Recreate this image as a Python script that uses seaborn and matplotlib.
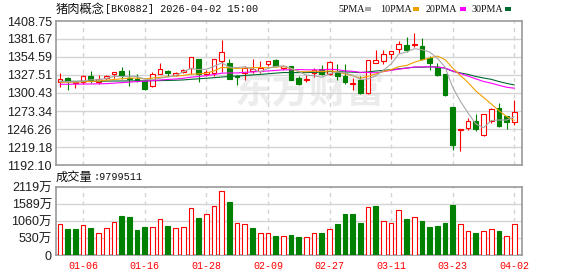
import numpy as np
import pandas as pd
import matplotlib
matplotlib.use("Agg")
import matplotlib.pyplot as plt
from matplotlib.patches import Rectangle
import seaborn as sns

# ---------------- data ----------------
dates = ["12-30", "12-31", "01-05", "01-06", "01-07", "01-08", "01-09", "01-12", "01-13", "01-14",
         "01-15", "01-16", "01-19", "01-20", "01-21", "01-22", "01-23", "01-26", "01-27", "01-28",
         "01-29", "01-30", "02-02", "02-03", "02-04", "02-05", "02-06", "02-09", "02-10", "02-11",
         "02-12", "02-13", "02-24", "02-25", "02-26", "02-27", "03-02", "03-03", "03-04", "03-05",
         "03-06", "03-09", "03-10", "03-11", "03-12", "03-13", "03-16", "03-17", "03-18", "03-19",
         "03-20", "03-23", "03-24", "03-25", "03-26", "03-27", "03-30", "03-31", "04-01", "04-02"]
tick_dates = ["01-06", "01-16", "01-28", "02-09", "02-27", "03-11", "03-23", "04-02"]

open_ = [1317.3, 1322.7, 1315.3, 1317.3, 1326.7, 1316.3, 1322.7, 1329.6, 1333.1, 1323.7,
         1321.2, 1318.8, 1310.3, 1329.6, 1334.1, 1327.7, 1332.1, 1338.1, 1351.0, 1328.7,
         1331.1, 1348.5, 1345.0, 1326.7, 1331.1, 1333.6, 1333.0, 1344.5, 1349.5, 1338.6,
         1340.5, 1322.7, 1320.2, 1331.1, 1336.1, 1328.6, 1332.6, 1326.2, 1313.3, 1320.2,
         1299.9, 1346.0, 1348.5, 1359.4, 1366.8, 1372.8, 1372.3, 1371.3, 1352.4, 1339.6,
         1329.7, 1279.1, 1245.5, 1247.4, 1257.8, 1236.5, 1258.8, 1278.6, 1265.2, 1256.3]
high = [1331.0, 1324.7, 1316.8, 1327.2, 1333.1, 1327.2, 1327.2, 1332.6, 1340.0, 1335.6,
        1328.7, 1319.3, 1332.1, 1345.0, 1334.5, 1332.0, 1336.1, 1354.0, 1351.0, 1335.6,
        1352.0, 1380.2, 1351.0, 1327.0, 1341.0, 1351.9, 1348.0, 1349.0, 1351.0, 1342.0,
        1341.0, 1326.2, 1327.2, 1338.6, 1342.5, 1348.5, 1344.5, 1344.5, 1323.2, 1326.2,
        1350.0, 1365.8, 1364.8, 1364.3, 1379.2, 1385.1, 1390.1, 1382.7, 1356.4, 1345.0,
        1329.7, 1279.1, 1246.7, 1262.3, 1268.7, 1268.5, 1278.1, 1285.1, 1265.5, 1289.5]
low = [1310.0, 1305.4, 1308.4, 1314.0, 1315.3, 1313.8, 1320.2, 1323.7, 1321.2, 1311.3,
       1316.3, 1304.9, 1309.3, 1328.6, 1326.2, 1326.0, 1330.6, 1328.6, 1317.3, 1326.2,
       1326.2, 1332.6, 1322.0, 1312.3, 1320.2, 1331.1, 1331.0, 1341.0, 1340.0, 1335.0,
       1319.7, 1312.3, 1316.3, 1324.7, 1327.7, 1328.0, 1320.2, 1313.8, 1305.4, 1298.4,
       1298.4, 1346.0, 1343.5, 1351.9, 1359.9, 1361.4, 1369.3, 1350.5, 1334.6, 1325.7,
       1296.0, 1214.2, 1212.7, 1244.4, 1244.0, 1235.5, 1255.3, 1249.4, 1246.5, 1252.8]
close = [1321.0, 1317.8, 1316.3, 1326.7, 1319.7, 1321.7, 1326.2, 1332.6, 1325.7, 1321.7,
         1319.7, 1306.4, 1328.7, 1337.1, 1330.1, 1330.6, 1335.1, 1353.9, 1328.6, 1332.6,
         1351.9, 1361.4, 1322.2, 1325.2, 1338.1, 1336.8, 1337.5, 1349.0, 1340.5, 1341.5,
         1320.2, 1313.8, 1321.2, 1335.1, 1329.6, 1347.5, 1326.2, 1316.3, 1315.3, 1299.9,
         1350.0, 1349.5, 1358.4, 1362.9, 1374.2, 1365.3, 1374.2, 1351.4, 1345.5, 1328.2,
         1297.5, 1221.7, 1246.5, 1257.8, 1246.5, 1268.2, 1276.2, 1250.4, 1257.3, 1271.1]

ma5 = [1317.5, 1317.5, 1317.2, 1318.5, 1320.3, 1320.4, 1322.1, 1325.4, 1325.2, 1325.6,
       1325.2, 1321.2, 1320.4, 1322.7, 1324.4, 1326.6, 1332.3, 1337.4, 1335.7, 1336.2,
       1340.4, 1345.7, 1339.3, 1338.7, 1339.8, 1336.7, 1332.0, 1337.3, 1340.4, 1341.1,
       1337.7, 1333.0, 1327.4, 1326.4, 1324.0, 1329.4, 1331.9, 1330.9, 1327.0, 1321.0,
       1321.5, 1326.2, 1334.6, 1344.1, 1359.0, 1362.1, 1367.0, 1365.6, 1362.1, 1352.9,
       1339.4, 1308.9, 1287.9, 1270.3, 1254.0, 1248.1, 1259.0, 1259.8, 1259.7, 1264.6]
ma10 = [1316.5, 1316.6, 1316.8, 1317.3, 1317.8, 1318.5, 1319.5, 1320.8, 1321.8, 1322.9,
        1322.8, 1321.7, 1322.9, 1324.0, 1325.0, 1325.9, 1326.8, 1328.9, 1329.2, 1330.3,
        1333.5, 1339.0, 1338.4, 1337.2, 1338.0, 1338.6, 1338.8, 1338.3, 1339.5, 1340.4,
        1337.2, 1332.5, 1332.4, 1333.4, 1332.5, 1333.6, 1332.5, 1329.2, 1326.7, 1322.5,
        1325.5, 1329.1, 1332.8, 1335.6, 1340.0, 1341.8, 1346.6, 1350.1, 1353.1, 1356.0,
        1350.7, 1337.9, 1326.7, 1316.2, 1303.5, 1293.8, 1284.0, 1273.9, 1265.0, 1259.3]
ma20 = [1313.5, 1313.6, 1313.7, 1313.9, 1314.0, 1314.2, 1314.5, 1315.2, 1316.0, 1316.8,
        1317.6, 1318.2, 1319.0, 1320.0, 1320.8, 1321.5, 1322.6, 1324.2, 1325.2, 1326.6,
        1328.2, 1330.3, 1330.6, 1330.6, 1331.5, 1332.2, 1332.8, 1333.6, 1334.4, 1335.3,
        1335.4, 1335.7, 1335.4, 1335.3, 1335.2, 1336.1, 1335.6, 1333.8, 1333.1, 1331.5,
        1331.4, 1330.8, 1332.6, 1334.5, 1336.3, 1337.7, 1339.5, 1339.7, 1339.9, 1339.2,
        1338.1, 1333.5, 1329.8, 1325.9, 1321.7, 1317.8, 1315.3, 1312.0, 1309.1, 1307.6]
ma30 = [1318.0, 1318.0, 1318.0, 1318.1, 1318.1, 1318.2, 1318.3, 1318.4, 1318.5, 1318.6,
        1318.7, 1318.7, 1318.9, 1319.1, 1319.3, 1319.6, 1320.1, 1321.0, 1321.8, 1322.6,
        1323.5, 1324.5, 1325.3, 1326.0, 1326.8, 1327.6, 1328.4, 1329.3, 1330.3, 1331.2,
        1331.2, 1331.1, 1331.2, 1331.5, 1331.8, 1332.7, 1332.7, 1332.1, 1331.8, 1331.1,
        1332.1, 1333.5, 1334.5, 1335.4, 1336.8, 1338.0, 1339.3, 1339.2, 1339.8, 1339.6,
        1337.8, 1333.2, 1330.6, 1328.4, 1325.3, 1323.0, 1321.0, 1317.7, 1314.9, 1312.6]

# volume in 万 (10k shares); direction vs. previous close (R = up, G = down)
volume = [957, 811, 811, 926, 842, 676, 832, 1019, 1217, 1186,
          780, 874, 863, 1113, 905, 832, 863, 1456, 1154, 1269,
          1518, 1986, 1654, 988, 957, 842, 697, 697, 593, 582,
          624, 562, 551, 676, 676, 801, 967, 1279, 1279, 998,
          1487, 1529, 1050, 988, 1394, 1123, 1175, 1061, 874, 905,
          998, 1560, 957, 738, 686, 738, 811, 749, 582, 979.9511]
vol_dir = list("RGGRGRRRGGGGRRGRRRGRRRGRRGRRGRGGRRGRGGGGRGRRRGRGGGGGRRGRRGRR")

price_ticks = [1192.10, 1219.18, 1246.26, 1273.34, 1300.43, 1327.51, 1354.59, 1381.67, 1408.75]
vol_ticks = [0, 530, 1060, 1589, 2119]
vol_tick_labels = ["0", "530万", "1060万", "1589万", "2119万"]
ma_names = ["5PMA", "10PMA", "20PMA", "30PMA"]
ma_colors = ["#a8a8a8", "#f0a000", "#ff00ff", "#006a30"]
title_cn = "猪肉概念"
title_rest = "[BK0882] 2026-04-02 15:00"
vol_title_cn = "成交量"
vol_title_rest = ":9799511"

# ---------------- style ----------------
sns.set_theme(style="white")
plt.rcParams["font.family"] = ["Liberation Sans", "Noto Sans CJK SC", "DejaVu Sans"]

RED = "#ff0000"
GREEN = "#008000"
GRID = "#d4d4d4"
FRAME = "#9a9a9a"
TXT = "#1e1e1e"
W, H = 578, 276

fig = plt.figure(figsize=(W / 100, H / 100), dpi=100)
fig.patch.set_facecolor("white")


def rect(l, t, r, b):
    return [l / W, 1 - b / H, (r - l) / W, (b - t) / H]


def fx(px):
    return px / W


def fy(py):
    return 1 - py / H


ax = fig.add_axes(rect(56, 21, 522, 165))
axv = fig.add_axes(rect(56, 187, 522, 255))

n = len(close)
x = np.arange(n)
o = np.array(open_)
c = np.array(close)
hi = np.array(high)
lo = np.array(low)
up = c >= o
XL = (-0.52, 60.0)
tick_idx = [dates.index(d) for d in tick_dates]

# watermark
ax.text(0.545, 0.51, "东方财富", transform=ax.transAxes, ha="center", va="center",
        fontsize=27, fontweight="bold", color="#ececec", zorder=0,
        family=["Noto Sans CJK SC"])

# candles
bw = 0.6
top = np.maximum(o, c)
bot = np.minimum(o, c)
cols = np.where(up, RED, GREEN)
ax.vlines(x, top, hi, colors=cols, lw=0.8, zorder=3)
ax.vlines(x, lo, bot, colors=cols, lw=0.8, zorder=3)
ax.bar(x, np.maximum(top - bot, 0.25), bottom=bot, width=bw,
       color=np.where(up, "white", GREEN), edgecolor=cols, linewidth=0.8, zorder=3)

# moving averages via seaborn
ma_df = pd.DataFrame({"x": np.tile(x, 4),
                      "value": np.concatenate([ma5, ma10, ma20, ma30]),
                      "ma": np.repeat(ma_names, n)})
sns.lineplot(data=ma_df, x="x", y="value", hue="ma", palette=dict(zip(ma_names, ma_colors)),
             hue_order=ma_names[::-1], ax=ax, legend=False, linewidth=0.8, zorder=4)

ax.set_xlim(*XL)
ax.set_ylim(price_ticks[0], price_ticks[-1])
ax.set_yticks(price_ticks)
ax.set_yticklabels([f"{t:.2f}" for t in price_ticks], fontsize=9, color=TXT)
ax.set_xticks([])
ax.set_xlabel("")
ax.set_ylabel("")
ax.grid(False)
for t in price_ticks[1:-1]:
    ax.axhline(t, color=GRID, lw=1.0, zorder=1)
for i in tick_idx:
    ax.axvline(i, color=GRID, lw=1.0, ls=(0, (3, 3)), zorder=1)

# volume
vcols = [RED if d == "R" else GREEN for d in vol_dir]
vface = ["white" if d == "R" else GREEN for d in vol_dir]
axv.bar(x, volume, width=0.62, color=vface, edgecolor=vcols, linewidth=0.8, zorder=3)
axv.set_xlim(*XL)
axv.set_ylim(0, 2119)
axv.set_yticks(vol_ticks)
axv.set_yticklabels(vol_tick_labels, fontsize=9, color=TXT)
axv.set_xticks(tick_idx)
axv.set_xticklabels(tick_dates, fontsize=7.2, color=RED, family=["Liberation Mono"])
for t in vol_ticks[1:-1]:
    axv.axhline(t, color=GRID, lw=1.0, zorder=1)
for i in tick_idx:
    axv.axvline(i, color=GRID, lw=1.0, ls=(0, (3, 3)), zorder=1)

for a in (ax, axv):
    a.tick_params(axis="both", length=0, pad=3)
    a.set_facecolor("white")
    for s in a.spines.values():
        s.set_color(FRAME)
        s.set_linewidth(1.2)
        s.set_visible(True)
axv.tick_params(axis="x", pad=4)

# header texts
fig.text(fx(56), fy(9), title_cn, fontsize=8.8, color="#111111", va="center", ha="left",
         family=["Noto Sans CJK SC"])
fig.text(fx(105), fy(9), title_rest, fontsize=7.3, color="#111111", va="center", ha="left",
         family=["Liberation Mono"])
fig.text(fx(56), fy(177), vol_title_cn, fontsize=8.8, color="#111111", va="center", ha="left",
         family=["Noto Sans CJK SC"])
fig.text(fx(93), fy(177), vol_title_rest, fontsize=7.3, color="#111111", va="center", ha="left",
         family=["Liberation Mono"])

# legend
leg_text_x = [338, 380, 426, 472]
leg_box_x = [365, 413, 460, 505]
for name, col, tx, bx in zip(ma_names, ma_colors, leg_text_x, leg_box_x):
    fig.text(fx(tx), fy(9), name, fontsize=7.2, color="#111111", va="center", ha="left",
             family=["Liberation Serif"])
    fig.patches.append(Rectangle((fx(bx), fy(11)), 6 / W, 4 / H, transform=fig.transFigure,
                                 facecolor=col, edgecolor="none"))

fig.savefig("out.png", dpi=100, facecolor="white")
